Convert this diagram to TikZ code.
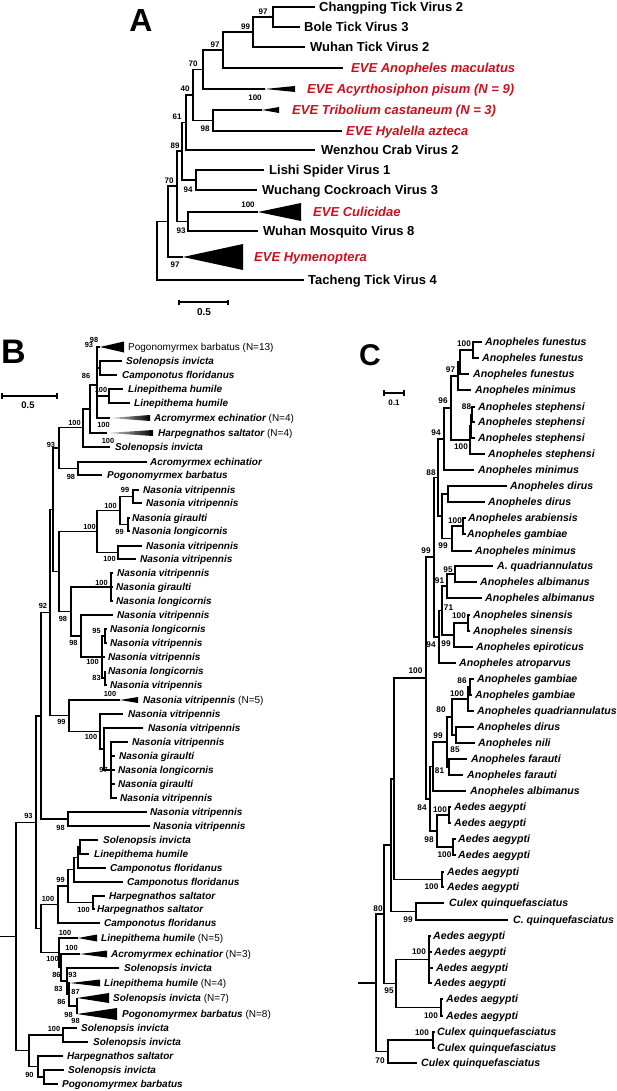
\documentclass[tikz,border=0pt]{standalone}
\usepackage{fontspec}
\setmainfont{Liberation Sans}
\definecolor{evered}{RGB}{200,18,30}
\newcommand\Lf[6]{\coordinate (#1) at (#2,#3);\node[#5] (#1t) at (#4,#3) {#6};}
\newcommand\Tr[6]{\coordinate (#1) at (#2,#3);\fill[#6] (#1) -- (#4,#3-#5) -- (#4,#3+#5) -- cycle;}
\newcommand\Nd[3]{\coordinate (#1) at (#2,#3);}
\newcommand\Sp[5]{\node[#5] (#1) at (#2,#3) {#4};}
\newcommand\Eds[3][br]{\foreach \kid in {#3} {\draw[#1] (#2) |- (\kid);}}
\tikzset{
 br/.style={line width=1.3pt},
 brA/.style={line width=1.4pt},
 ta/.style={font=\fontsize{13}{15}\selectfont\bfseries, anchor=base west, inner sep=0pt, yshift=-4.6pt},
 tae/.style={ta, font=\fontsize{13}{15}\selectfont\bfseries\itshape, text=evered},
 sa/.style={font=\fontsize{8}{9}\selectfont\bfseries, inner sep=0pt},
 tb/.style={font=\fontsize{10}{12}\selectfont\bfseries\itshape, anchor=base west, inner sep=0pt, yshift=-3.6pt},
 tbr/.style={tb, font=\fontsize{10}{12}\selectfont},
 sb/.style={font=\fontsize{7.4}{8}\selectfont\bfseries, inner sep=0pt},
 tc/.style={font=\fontsize{10.6}{12}\selectfont\bfseries\itshape, anchor=base west, inner sep=0pt, yshift=-3.8pt},
 sc/.style={font=\fontsize{8.2}{9}\selectfont\bfseries, inner sep=0pt},
 panel/.style={font=\fontsize{#1}{#1}\selectfont\bfseries, inner sep=0pt},
}
\newcommand\Nsuf[1]{{\mdseries\upshape #1}}
\begin{document}
\begin{tikzpicture}[x=1pt,y=-1pt]
\fill[white] (0,0) rectangle (617,1091);
\useasboundingbox (0,0) rectangle (617,1091);

% ================= Panel A =================
\node[panel=32] (PA) at (141,20) {A};
\Lf{ChT}{315}{7}{319}{ta}{Changping Tick Virus 2}
\Lf{BoT}{300}{27}{304}{ta}{Bole Tick Virus 3}
\Lf{WuT}{305}{47}{310}{ta}{Wuhan Tick Virus 2}
\Lf{AnM}{343}{68}{351}{tae}{EVE Anopheles maculatus}
\Tr{Acy}{265}{89}{295}{3}{black}
\node[tae] (Acyt) at (307,89) {EVE Acyrthosiphon pisum (N = 9)};
\Tr{Tri}{262}{110}{279}{3}{black}
\node[tae] (Trit) at (292,110) {EVE Tribolium castaneum (N = 3)};
\Lf{Hya}{342}{131}{346}{tae}{EVE Hyalella azteca}
\Lf{Wen}{315}{150}{321}{ta}{Wenzhou Crab Virus 2}
\Lf{Lis}{264}{170}{269}{ta}{Lishi Spider Virus 1}
\Lf{Wuc}{257}{190}{262}{ta}{Wuchang Cockroach Virus 3}
\Tr{Cul}{258}{212}{301}{9}{black}
\node[tae] (Cult) at (313,212) {EVE Culicidae};
\Lf{WuM}{258}{231}{263}{ta}{Wuhan Mosquito Virus 8}
\Tr{Hym}{183}{257}{243}{13}{black}
\node[tae] (Hymt) at (254,257) {EVE Hymenoptera};
\Lf{Tac}{304}{280}{308}{ta}{Tacheng Tick Virus 4}
\Nd{a1}{273}{17}\Nd{a2}{253}{32}\Nd{a3}{223}{50}\Nd{a4}{203}{69.5}
\Nd{a5}{213}{120.5}\Nd{a6}{193}{95}\Nd{a7}{186}{122.5}\Nd{a8}{196}{180}
\Nd{a9}{182}{151}\Nd{a10}{188}{221.5}\Nd{a11}{177}{186}\Nd{a12}{168}{221.5}
\Nd{a13}{157}{250.75}
\Eds[brA]{a1}{ChT,BoT}\Eds[brA]{a2}{a1,WuT}\Eds[brA]{a3}{a2,AnM}\Eds[brA]{a4}{a3,Acy}
\Eds[brA]{a5}{Tri,Hya}\Eds[brA]{a6}{a4,a5}\Eds[brA]{a7}{a6,Wen}\Eds[brA]{a8}{Lis,Wuc}
\Eds[brA]{a9}{a7,a8}\Eds[brA]{a10}{Cul,WuM}\Eds[brA]{a11}{a9,a10}\Eds[brA]{a12}{a11,Hym}
\Eds[brA]{a13}{a12,Tac}
\Sp{sa1}{263}{12}{97}{sa}\Sp{sa2}{245.5}{26.5}{99}{sa}\Sp{sa3}{215}{44.5}{97}{sa}
\Sp{sa4}{193}{63.5}{70}{sa}\Sp{sa5}{255}{98}{100}{sa}\Sp{sa6}{185}{88.5}{40}{sa}
\Sp{sa7}{205}{129}{98}{sa}\Sp{sa8}{177}{117}{61}{sa}\Sp{sa9}{175}{146}{89}{sa}
\Sp{sa10}{188}{190}{94}{sa}\Sp{sa11}{248}{205}{100}{sa}\Sp{sa12}{169}{181}{70}{sa}
\Sp{sa13}{181}{231}{93}{sa}\Sp{sa14}{175}{265}{97}{sa}
\coordinate (sbA1) at (179,302); \coordinate (sbA2) at (228,302);
\draw[brA] (sbA1) -- (sbA2);
\draw[brA] ([yshift=2.5pt]sbA1) -- ([yshift=-2.5pt]sbA1);
\draw[brA] ([yshift=2.5pt]sbA2) -- ([yshift=-2.5pt]sbA2);
\node[font=\fontsize{10}{12}\selectfont\bfseries, inner sep=0pt] (sbAt) at (204,312) {0.5};

% ================= Panel B =================
\node[panel=34] (PB) at (13.5,351.5) {B};
\Tr{b1}{100}{347}{124}{5.5}{black}
\node[tbr] (b1t) at (128,347) {Pogonomyrmex barbatus (N=13)};
\Lf{b2}{122}{361}{126}{tb}{Solenopsis invicta}
\Lf{b3}{117}{375}{122}{tb}{Camponotus floridanus}
\Lf{b4}{123}{389}{128}{tb}{Linepithema humile}
\Lf{b5}{130}{403}{134}{tb}{Linepithema humile}
\coordinate (b6) at (110,418);
\shade[left color=gray!30,right color=black] (b6) -- (150,415) -- (150,421) -- cycle;
\node[tb] (b6t) at (154,418) {Acromyrmex echinatior \Nsuf{(N=4)}};
\coordinate (b7) at (107,433);
\shade[left color=gray!30,right color=black] (b7) -- (153,430) -- (153,436) -- cycle;
\node[tb] (b7t) at (158,433) {Harpegnathos saltator \Nsuf{(N=4)}};
\Lf{b8}{110}{447}{115}{tb}{Solenopsis invicta}
\Lf{b9}{147}{462}{150}{tb}{Acromyrmex echinatior}
\Lf{b10}{102}{475}{107}{tb}{Pogonomyrmex barbatus}
\Lf{b11}{139}{490}{143}{tb}{Nasonia vitripennis}
\Lf{b12}{142}{503}{146}{tb}{Nasonia vitripennis}
\Lf{b13}{130}{518}{132}{tb}{Nasonia giraulti}
\Lf{b14}{130}{531}{132}{tb}{Nasonia longicornis}
\Lf{b15}{142}{546}{146}{tb}{Nasonia vitripennis}
\Lf{b16}{136}{559}{140}{tb}{Nasonia vitripennis}
\Lf{b17}{113}{573}{117}{tb}{Nasonia vitripennis}
\Lf{b18}{113}{587}{116}{tb}{Nasonia giraulti}
\Lf{b19}{113}{601}{116}{tb}{Nasonia longicornis}
\Lf{b20}{113}{615}{117}{tb}{Nasonia vitripennis}
\Lf{b21}{107}{629}{110}{tb}{Nasonia longicornis}
\Lf{b22}{107}{643}{110}{tb}{Nasonia vitripennis}
\Lf{b23}{105}{657}{108}{tb}{Nasonia vitripennis}
\Lf{b24}{105}{671}{108}{tb}{Nasonia longicornis}
\Lf{b25}{107}{685}{110}{tb}{Nasonia vitripennis}
\Tr{b26}{120}{700}{138}{3}{black}
\node[tb] (b26t) at (143,700) {Nasonia vitripennis \Nsuf{(N=5)}};
\Lf{b27}{123}{714}{128}{tb}{Nasonia vitripennis}
\Lf{b28}{143}{728}{148}{tb}{Nasonia vitripennis}
\Lf{b29}{128}{742}{132}{tb}{Nasonia vitripennis}
\Lf{b30}{115}{756}{119}{tb}{Nasonia giraulti}
\Lf{b31}{115}{770}{118}{tb}{Nasonia longicornis}
\Lf{b32}{115}{784}{118}{tb}{Nasonia giraulti}
\Lf{b33}{117}{798}{120}{tb}{Nasonia vitripennis}
\Lf{b34}{147}{812}{150}{tb}{Nasonia vitripennis}
\Lf{b35}{150}{826}{153}{tb}{Nasonia vitripennis}
\Lf{b36}{98}{840}{103}{tb}{Solenopsis invicta}
\Lf{b37}{89}{854}{94}{tb}{Linepithema humile}
\Lf{b38}{106}{868}{110}{tb}{Camponotus floridanus}
\Lf{b39}{123}{882}{127}{tb}{Camponotus floridanus}
\Lf{b40}{105}{896}{109}{tb}{Harpegnathos saltator}
\Lf{b41}{95}{909}{97}{tb}{Harpegnathos saltator}
\Lf{b42}{100}{923}{104}{tb}{Camponotus floridanus}
\Tr{b43}{78}{938}{97}{3.5}{black}
\node[tb] (b43t) at (101,938) {Linepithema humile \Nsuf{(N=5)}};
\Tr{b44}{80}{954}{107}{3.5}{black}
\node[tb] (b44t) at (111,954) {Acromyrmex echinatior \Nsuf{(N=3)}};
\Lf{b45}{119}{968}{124}{tb}{Solenopsis invicta}
\Tr{b46}{70}{983}{100}{3.5}{black}
\node[tb] (b46t) at (104,983) {Linepithema humile \Nsuf{(N=4)}};
\Tr{b47}{77}{998}{109}{5}{black}
\node[tb] (b47t) at (113,998) {Solenopsis invicta \Nsuf{(N=7)}};
\Tr{b48}{77}{1014}{117}{6}{black}
\node[tb] (b48t) at (122,1014) {Pogonomyrmex barbatus \Nsuf{(N=8)}};
\Lf{b49}{77}{1028}{81}{tb}{Solenopsis invicta}
\Lf{b50}{88}{1042}{93}{tb}{Solenopsis invicta}
\Lf{b51}{63}{1056}{67}{tb}{Harpegnathos saltator}
\Lf{b52}{64}{1070}{68}{tb}{Solenopsis invicta}
\Lf{b53}{58}{1084}{62}{tb}{Pogonomyrmex barbatus}

\Nd{c1}{100}{368}\Nd{c2}{109}{396}\Nd{c3}{97}{385}\Nd{c4}{90}{409}\Nd{c5}{83}{427.5}
\Nd{c6}{78}{468.5}\Nd{c7}{59}{448}\Nd{c8}{133}{496.5}\Nd{c9}{128}{524.5}\Nd{c10}{120}{510.5}
\Nd{c11}{118}{552.5}\Nd{c12}{97}{531.5}\Nd{c13}{111}{587}\Nd{c14}{105}{636}\Nd{c15}{105}{678}
\Nd{c16}{102}{657}\Nd{c17}{81}{636}\Nd{c18}{71}{611.5}\Nd{c19}{59}{571.5}\Nd{c20}{53}{509.75}
\Nd{c21}{111}{770}\Nd{c22}{104}{749}\Nd{c23}{100}{731.5}\Nd{c24}{69}{715.75}\Nd{c25}{50}{612.75}
\Nd{c25b}{41}{716}\Nd{c26}{68}{819}\Nd{c27}{80}{847}\Nd{c28}{78}{857.5}\Nd{c29}{74}{869.75}
\Nd{c30}{93}{902.5}\Nd{c31}{68}{886}\Nd{c32}{58}{904.5}\Nd{c33}{77}{1006}\Nd{c34}{69}{994.5}
\Nd{c35}{67}{981}\Nd{c36}{61}{967.5}\Nd{c37}{59}{952.75}\Nd{c38}{41}{928.6}\Nd{c39}{36}{822.3}
\Nd{c40}{29}{1050.75}\Nd{c41}{63}{1035}\Nd{c42}{44}{1077}\Nd{c43}{38}{1066.5}\Nd{rB}{16}{936.5}
\coordinate (rBs) at (0,936.5);
\Eds{c1}{b2,b3}\Eds{c2}{b4,b5}\Eds{c3}{b1,c1,c2,b6}\Eds{c4}{c3,b7}\Eds{c5}{c4,b8}
\Eds{c6}{b9,b10}\Eds{c7}{c5,c6}\Eds{c8}{b11,b12}\Eds{c9}{b13,b14}\Eds{c10}{c8,c9}
\Eds{c11}{b15,b16}\Eds{c12}{c10,c11}\Eds{c13}{b17,b18,b19}\Eds{c14}{b21,b22}\Eds{c15}{b24,b25}
\Eds{c16}{c14,b23,c15}\Eds{c17}{b20,c16}\Eds{c18}{c13,c17}\Eds{c19}{c12,c18}\Eds{c20}{c7,c19}
\Eds{c21}{b29,b30,b31,b32,b33}\Eds{c22}{b28,c21}\Eds{c23}{b27,c22}\Eds{c24}{b26,c23}
\Eds{c25}{c20,c24}\Eds{c25b}{c25,c26}\Eds{c26}{b34,b35}\Eds{c27}{b36,b37}\Eds{c28}{c27,b38}
\Eds{c29}{c28,b39}\Eds{c30}{b40,b41}\Eds{c31}{c29,c30}\Eds{c32}{c31,b42}\Eds{c33}{b47,b48}
\Eds{c34}{b46,c33}\Eds{c35}{b45,c34}\Eds{c36}{b44,c35}\Eds{c37}{b43,c36}\Eds{c38}{c32,c37}
\Eds{c39}{c25b,c38}\Eds{c41}{b49,b50}\Eds{c42}{b52,b53}\Eds{c43}{b51,c42}\Eds{c40}{c41,c43}
\Eds{rB}{c39,c40}
\draw[br] (rBs) -- (rB);
\Sp{sb1}{94}{339.5}{98}{sb}\Sp{sb2}{89}{345}{93}{sb}\Sp{sb3}{86}{375.5}{86}{sb}
\Sp{sb4}{101}{390}{100}{sb}\Sp{sb5}{74.5}{423}{100}{sb}\Sp{sb6}{103.5}{425}{100}{sb}
\Sp{sb7}{108}{441}{100}{sb}\Sp{sb8}{51}{445}{93}{sb}\Sp{sb9}{71}{476.5}{98}{sb}
\Sp{sb10}{125}{490}{99}{sb}\Sp{sb11}{110.5}{506}{100}{sb}\Sp{sb12}{119.5}{532}{99}{sb}
\Sp{sb13}{89.5}{527}{100}{sb}\Sp{sb14}{109.5}{559}{100}{sb}\Sp{sb15}{101.5}{583}{100}{sb}
\Sp{sb16}{43}{606}{92}{sb}\Sp{sb17}{63}{619}{98}{sb}\Sp{sb18}{96.5}{631}{95}{sb}
\Sp{sb19}{73.5}{642.5}{98}{sb}\Sp{sb20}{92.5}{661.5}{100}{sb}\Sp{sb21}{96.5}{678}{83}{sb}
\Sp{sb22}{110}{694}{100}{sb}\Sp{sb23}{61.5}{722}{99}{sb}\Sp{sb24}{91}{737}{100}{sb}
\Sp{sb25}{103.5}{770}{97}{sb}\Sp{sb26}{28.5}{815.5}{93}{sb}\Sp{sb27}{60.5}{828}{98}{sb}
\Sp{sb28}{60.5}{879.5}{99}{sb}\Sp{sb29}{83.5}{910}{100}{sb}\Sp{sb30}{48}{899}{100}{sb}
\Sp{sb31}{65}{933}{100}{sb}\Sp{sb32}{71.5}{947.5}{100}{sb}\Sp{sb33}{52.5}{959}{100}{sb}
\Sp{sb34}{72.5}{974.5}{93}{sb}\Sp{sb35}{56.5}{974.5}{86}{sb}\Sp{sb36}{58.5}{988.5}{83}{sb}
\Sp{sb37}{75.5}{992}{87}{sb}\Sp{sb38}{61.5}{1002}{86}{sb}\Sp{sb39}{68.5}{1015}{98}{sb}
\Sp{sb40}{75.5}{1021}{98}{sb}\Sp{sb41}{54}{1029}{100}{sb}\Sp{sb42}{29.5}{1075}{90}{sb}
\coordinate (sbB1) at (2,396); \coordinate (sbB2) at (57,396);
\draw[br] (sbB1) -- (sbB2);
\draw[br] ([yshift=3pt]sbB1) -- ([yshift=-3pt]sbB1);
\draw[br] ([yshift=3pt]sbB2) -- ([yshift=-3pt]sbB2);
\node[font=\fontsize{9.5}{11}\selectfont\bfseries, inner sep=0pt] (sbBt) at (28,405) {0.5};

% ================= Panel C =================
\node[panel=30] (PC) at (370,355.5) {C};
\Lf{d1}{482}{342}{485}{tc}{Anopheles funestus}
\Lf{d2}{479}{358}{482}{tc}{Anopheles funestus}
\Lf{d3}{469}{374}{473}{tc}{Anopheles funestus}
\Lf{d4}{471}{390}{475}{tc}{Anopheles minimus}
\Lf{d5}{475}{407}{478}{tc}{Anopheles stephensi}
\Lf{d6}{475}{422}{478}{tc}{Anopheles stephensi}
\Lf{d7}{475}{438}{478}{tc}{Anopheles stephensi}
\Lf{d8}{485}{454}{488}{tc}{Anopheles stephensi}
\Lf{d9}{474}{470}{478}{tc}{Anopheles minimus}
\Lf{d10}{507}{486}{510}{tc}{Anopheles dirus}
\Lf{d11}{485}{502}{488}{tc}{Anopheles dirus}
\Lf{d12}{466}{518}{468}{tc}{Anopheles arabiensis}
\Lf{d13}{466}{534}{467}{tc}{Anopheles gambiae}
\Lf{d14}{472}{551}{475}{tc}{Anopheles minimus}
\Lf{d15}{493}{566}{497}{tc}{A. quadriannulatus}
\Lf{d16}{477}{582}{480}{tc}{Anopheles albimanus}
\Lf{d17}{482}{598}{485}{tc}{Anopheles albimanus}
\Lf{d18}{470}{615}{473}{tc}{Anopheles sinensis}
\Lf{d19}{470}{631}{473}{tc}{Anopheles sinensis}
\Lf{d20}{473}{647}{476}{tc}{Anopheles epiroticus}
\Lf{d21}{456}{663}{459}{tc}{Anopheles atroparvus}
\Lf{d22}{474}{679}{477}{tc}{Anopheles gambiae}
\Lf{d23}{472}{695}{475}{tc}{Anopheles gambiae}
\Lf{d24}{474}{711}{477}{tc}{Anopheles quadriannulatus}
\Lf{d25}{474}{727}{477}{tc}{Anopheles dirus}
\Lf{d26}{475}{743}{478}{tc}{Anopheles nili}
\Lf{d27}{467}{759}{471}{tc}{Anopheles farauti}
\Lf{d28}{463}{775}{467}{tc}{Anopheles farauti}
\Lf{d29}{466}{791}{470}{tc}{Anopheles albimanus}
\Lf{d30}{451}{807}{454}{tc}{Aedes aegypti}
\Lf{d31}{451}{823}{454}{tc}{Aedes aegypti}
\Lf{d32}{456}{839}{458}{tc}{Aedes aegypti}
\Lf{d33}{456}{855}{458}{tc}{Aedes aegypti}
\Lf{d34}{444}{872}{447}{tc}{Aedes aegypti}
\Lf{d35}{444}{887}{447}{tc}{Aedes aegypti}
\Lf{d36}{444}{903}{449}{tc}{Culex quinquefasciatus}
\Lf{d37}{508}{920}{513}{tc}{C. quinquefasciatus}
\Lf{d38}{431}{936}{433}{tc}{Aedes aegypti}
\Lf{d39}{432}{952}{434}{tc}{Aedes aegypti}
\Lf{d40}{433}{968}{436}{tc}{Aedes aegypti}
\Lf{d41}{432}{983}{434}{tc}{Aedes aegypti}
\Lf{d42}{443}{999}{446}{tc}{Aedes aegypti}
\Lf{d43}{443}{1016}{446}{tc}{Aedes aegypti}
\Lf{d44}{435}{1032}{437}{tc}{Culex quinquefasciatus}
\Lf{d45}{435}{1048}{437}{tc}{Culex quinquefasciatus}
\Lf{d46}{417}{1063}{421}{tc}{Culex quinquefasciatus}

\Nd{k1}{473}{350}\Nd{k2}{460}{362}\Nd{k3}{458}{376}\Nd{k4}{472}{414.5}\Nd{k5}{471}{426}
\Nd{k6}{470}{440}\Nd{k7}{451}{408}\Nd{k8}{444}{439}\Nd{k9}{448}{494}\Nd{k10}{463}{526}
\Nd{k11}{452}{538.5}\Nd{k12}{442}{516}\Nd{k13}{438}{477.5}\Nd{k14}{455}{574}\Nd{k15}{447}{586}
\Nd{k16}{468}{623}\Nd{k17}{454}{635}\Nd{k18}{442}{610.5}\Nd{k19}{439}{637}\Nd{k20}{434}{557}
\Nd{k21}{470}{687}\Nd{k22}{468}{699}\Nd{k23}{456}{735}\Nd{k24}{452}{717}\Nd{k25}{449}{767}
\Nd{k26}{447}{742}\Nd{k27}{433}{766.5}\Nd{k28}{449}{815}\Nd{k29}{453}{847}\Nd{k30}{437}{831}
\Nd{k31}{430}{799}\Nd{k32}{426}{678}\Nd{k33}{442}{879.5}\Nd{k34}{394}{779}\Nd{k35}{416}{911.5}
\Nd{k36}{391}{845}\Nd{k37}{429}{959.5}\Nd{k38}{441}{1007.5}\Nd{k39}{396}{983.5}\Nd{k40}{384}{914}
\Nd{k41}{433}{1040}\Nd{k42}{388}{1051.5}\Nd{k43}{376}{983}
\coordinate (rCs) at (358,983);
\Eds{k1}{d1,d2}\Eds{k2}{k1,d3}\Eds{k3}{k2,d4}\Eds{k4}{d5,d6}\Eds{k5}{k4,d7}\Eds{k6}{k5,d8}
\Eds{k7}{k3,k6}\Eds{k8}{k7,d9}\Eds{k9}{d10,d11}\Eds{k10}{d12,d13}\Eds{k11}{k10,d14}
\Eds{k12}{k9,k11}\Eds{k13}{k8,k12}\Eds{k14}{d15,d16}\Eds{k15}{k14,d17}\Eds{k16}{d18,d19}
\Eds{k17}{k16,d20}\Eds{k18}{k15,k17}\Eds{k19}{k18,d21}\Eds{k20}{k13,k19}\Eds{k21}{d22,d23}
\Eds{k22}{k21,d24}\Eds{k23}{d25,d26}\Eds{k24}{k22,k23}\Eds{k25}{d27,d28}\Eds{k26}{k24,k25}
\Eds{k27}{k26,d29}\Eds{k28}{d30,d31}\Eds{k29}{d32,d33}\Eds{k30}{k28,k29}\Eds{k31}{k27,k30}
\Eds{k32}{k20,k31}\Eds{k33}{d34,d35}\Eds{k34}{k32,k33}\Eds{k35}{d36,d37}\Eds{k36}{k34,k35}
\Eds{k37}{d38,d39,d40,d41}\Eds{k38}{d42,d43}\Eds{k39}{k37,k38}\Eds{k40}{k36,k39}
\Eds{k41}{d44,d45}\Eds{k42}{k41,d46}\Eds{k43}{k40,k42}
\draw[br] (rCs) -- (k43);
\Sp{sc1}{464}{344}{100}{sc}\Sp{sc2}{450.5}{370}{97}{sc}\Sp{sc3}{443}{401}{96}{sc}
\Sp{sc4}{466.5}{407}{88}{sc}\Sp{sc5}{461}{447}{100}{sc}\Sp{sc6}{436}{433}{94}{sc}
\Sp{sc7}{431}{473}{88}{sc}\Sp{sc8}{455}{521}{100}{sc}\Sp{sc9}{443}{546}{99}{sc}
\Sp{sc10}{426}{551}{99}{sc}\Sp{sc11}{448}{570}{95}{sc}\Sp{sc12}{439.5}{581}{91}{sc}
\Sp{sc13}{448.5}{608}{71}{sc}\Sp{sc14}{459}{616}{100}{sc}\Sp{sc15}{446}{644}{99}{sc}
\Sp{sc16}{431}{644.5}{94}{sc}\Sp{sc17}{415.5}{671}{100}{sc}\Sp{sc18}{462}{681}{86}{sc}
\Sp{sc19}{457}{694}{100}{sc}\Sp{sc20}{441}{710}{80}{sc}\Sp{sc21}{438}{736}{99}{sc}
\Sp{sc22}{455}{750}{85}{sc}\Sp{sc23}{439.5}{771}{81}{sc}\Sp{sc24}{440}{810}{100}{sc}
\Sp{sc25}{422}{808}{84}{sc}\Sp{sc26}{429}{840}{98}{sc}\Sp{sc27}{444.5}{855}{100}{sc}
\Sp{sc28}{431.5}{887}{100}{sc}\Sp{sc29}{378}{909}{80}{sc}\Sp{sc30}{408}{920}{99}{sc}
\Sp{sc31}{419}{952}{100}{sc}\Sp{sc32}{389}{991}{95}{sc}\Sp{sc33}{431}{1016}{100}{sc}
\Sp{sc34}{422}{1033}{100}{sc}\Sp{sc35}{380}{1061}{70}{sc}
\coordinate (sbC1) at (384,393); \coordinate (sbC2) at (404,393);
\draw[br] (sbC1) -- (sbC2);
\draw[br] ([yshift=3pt]sbC1) -- ([yshift=-3pt]sbC1);
\draw[br] ([yshift=3pt]sbC2) -- ([yshift=-3pt]sbC2);
\node[font=\fontsize{8}{9}\selectfont\bfseries, inner sep=0pt] (sbCt) at (394,402.5) {0.1};
\end{tikzpicture}
\end{document}
